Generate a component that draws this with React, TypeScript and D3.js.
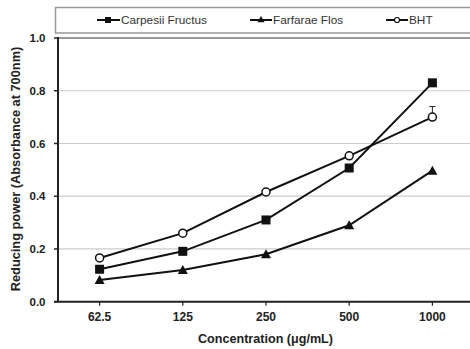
import React from "react";
import * as d3 from "d3";

const categories = ["62.5", "125", "250", "500", "1000"];
const carpesii = [0.123, 0.191, 0.31, 0.507, 0.83];
const farfarae = [0.082, 0.12, 0.18, 0.29, 0.497];
const bht = [0.166, 0.26, 0.416, 0.553, 0.70];
const bhtErr = [0, 0, 0, 0, 0.04];
const yTicks = [0, 0.2, 0.4, 0.6, 0.8, 1.0];

export default function App() {
  const W = 470, H = 349;
  const left = 58, right = 474, top = 38, bottom = 301.7;
  const x = d3.scalePoint<string>().domain(categories).range([left, right]).padding(0.5);
  const y = d3.scaleLinear().domain([0, 1]).range([bottom, top]);
  const line = d3.line<number>().x((_, i) => x(categories[i])!).y((d) => y(d));
  const font = "'Liberation Sans', Arial, sans-serif";
  const tri = (cx: number, cy: number, s: number) =>
    `M${cx},${cy - s}L${cx + s},${cy + s * 0.8}L${cx - s},${cy + s * 0.8}Z`;

  return (
    <svg width={W} height={H} style={{ position: "absolute", left: 0, top: 0 }} fontFamily={font}>
      <rect width={W} height={H} fill="#fff" />
      {/* legend box */}
      <rect x={55.5} y={7.5} width={430} height={25.5} fill="#fff" stroke="#999" strokeWidth={1.5} />
      <g fontSize={11.8} fill="#333">
        <line x1={97} x2={120} y1={20} y2={20} stroke="#111" strokeWidth={2} />
        <rect x={105} y={17} width={6} height={6} fill="#111" />
        <text x={121} y={24}>Carpesii Fructus</text>
        <line x1={250} x2={272} y1={20} y2={20} stroke="#111" strokeWidth={2} />
        <path d={tri(261, 19.5, 3.5)} fill="#111" />
        <text x={273} y={24}>Farfarae Flos</text>
        <line x1={386} x2={408} y1={20} y2={20} stroke="#111" strokeWidth={2} />
        <circle cx={397} cy={20} r={2.5} fill="#fff" stroke="#111" strokeWidth={1.2} />
        <text x={409} y={24}>BHT</text>
      </g>
      {/* gridlines */}
      {yTicks.filter((t) => t > 0 && t < 1).map((t) => (
        <line key={t} x1={left} x2={W} y1={y(t)} y2={y(t)} stroke="#ccc" strokeWidth={1.2} />
      ))}
      <line x1={left} x2={W} y1={y(1)} y2={y(1)} stroke="#777" strokeWidth={1.5} />
      {/* axes */}
      <line x1={left} x2={left} y1={y(1) - 1} y2={bottom} stroke="#222" strokeWidth={2} />
      <line x1={54} x2={W} y1={bottom} y2={bottom} stroke="#222" strokeWidth={2} />
      {yTicks.map((t) => (
        <g key={t}>
          <line x1={54} x2={left} y1={y(t)} y2={y(t)} stroke="#222" strokeWidth={1.5} />
          <text x={45.5} y={y(t) + 4.2} textAnchor="end" fontSize={11.5} fontWeight="bold" fill="#222">
            {t.toFixed(1)}
          </text>
        </g>
      ))}
      {categories.map((c) => (
        <g key={c}>
          <line x1={x(c)!} x2={x(c)!} y1={bottom} y2={bottom + 4} stroke="#222" strokeWidth={1.2} />
          <text x={x(c)!} y={320.5} textAnchor="middle" fontSize={12} fontWeight="bold" fill="#222">
            {c}
          </text>
        </g>
      ))}
      <text x={265.5} y={343} textAnchor="middle" fontSize={12.6} fontWeight="bold" fill="#222">
        Concentration (μg/mL)
      </text>
      <text
        transform={`translate(20,169) rotate(-90)`}
        textAnchor="middle"
        fontSize={12.8}
        fontWeight="bold"
        fill="#222"
      >
        Reducing power (Absorbance at 700nm)
      </text>
      {/* error bars */}
      {bht.map((v, i) =>
        bhtErr[i] > 0 ? (
          <g key={i} stroke="#222" strokeWidth={1}>
            <line x1={x(categories[i])!} x2={x(categories[i])!} y1={y(v)} y2={y(v + bhtErr[i])} />
            <line x1={x(categories[i])! - 3} x2={x(categories[i])! + 3} y1={y(v + bhtErr[i])} y2={y(v + bhtErr[i])} />
          </g>
        ) : null
      )}
      {/* lines */}
      <path d={line(carpesii)!} fill="none" stroke="#111" strokeWidth={2} />
      <path d={line(farfarae)!} fill="none" stroke="#111" strokeWidth={2} />
      <path d={line(bht)!} fill="none" stroke="#111" strokeWidth={2} />
      {carpesii.map((v, i) => (
        <rect key={i} x={x(categories[i])! - 4.5} y={y(v) - 4.5} width={9} height={9} fill="#111" />
      ))}
      {farfarae.map((v, i) => (
        <path key={i} d={tri(x(categories[i])!, y(v), 5)} fill="#111" />
      ))}
      {bht.map((v, i) => (
        <circle key={i} cx={x(categories[i])!} cy={y(v)} r={4} fill="#fff" stroke="#111" strokeWidth={1.5} />
      ))}
    </svg>
  );
}
